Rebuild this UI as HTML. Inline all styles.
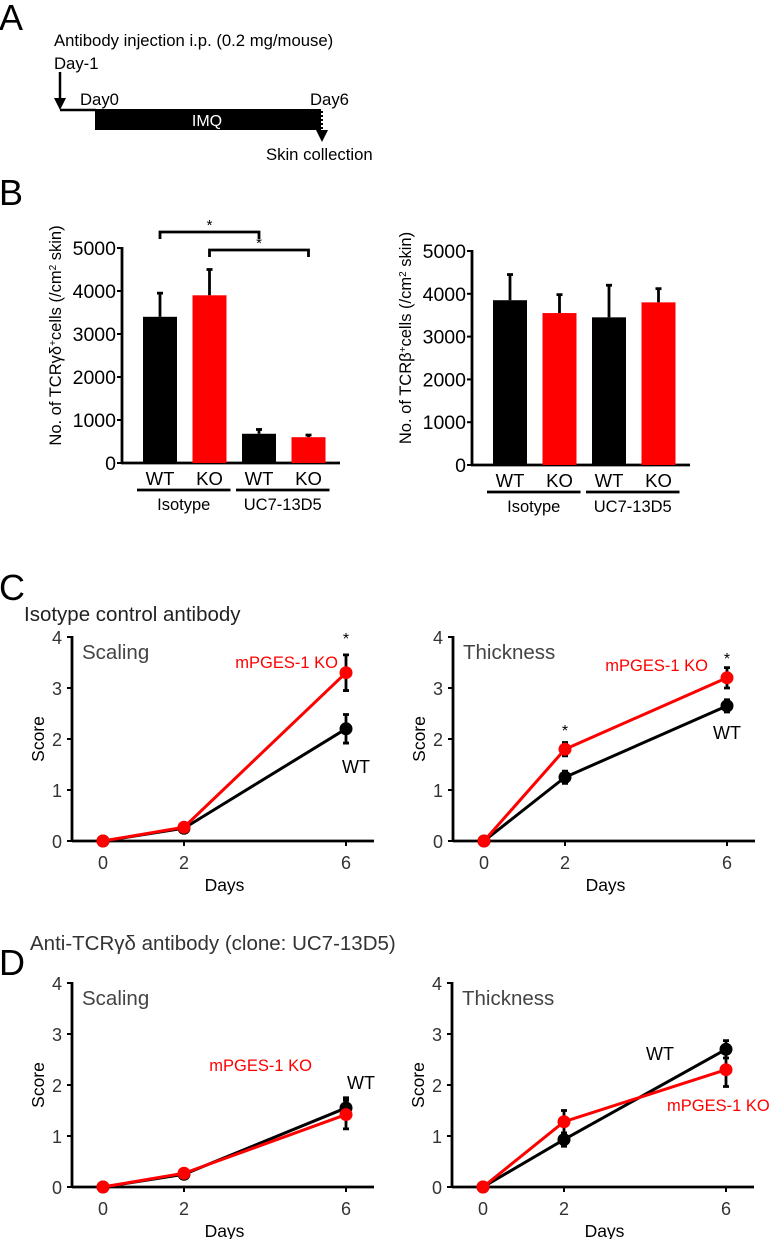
<!DOCTYPE html>
<html><head><meta charset="utf-8"><style>
html,body{margin:0;padding:0;background:#fff}
svg{display:block;font-family:"Liberation Sans",Arial,sans-serif}
</style></head><body>
<svg id="fig" width="770" height="1239" viewBox="0 0 770 1239" xmlns="http://www.w3.org/2000/svg">
<g>
<text x="-1" y="30" font-size="36">A</text>
<text x="54" y="46" font-size="16.7">Antibody injection i.p. (0.2 mg/mouse)</text>
<text x="54" y="69" font-size="16.7">Day-1</text>
<line x1="60" y1="72" x2="60" y2="100" stroke="#000" stroke-width="2.5"/>
<polygon points="54,98 66,98 60,110" fill="#000"/>
<line x1="60" y1="110" x2="96" y2="110" stroke="#000" stroke-width="2.5"/>
<rect x="95" y="109" width="226" height="21" fill="#000"/>
<text x="207" y="126" font-size="16" fill="#fff" text-anchor="middle">IMQ</text>
<text x="80" y="105" font-size="16.7">Day0</text>
<text x="310" y="105" font-size="16.7">Day6</text>
<line x1="322" y1="111" x2="322" y2="132" stroke="#000" stroke-width="2" stroke-dasharray="2,2"/>
<polygon points="316,130 328,130 322,142" fill="#000"/>
<text x="266" y="160" font-size="16.7">Skin collection</text>
</g>
<text x="-1" y="205" font-size="36">B</text>
<text x="-1" y="600" font-size="36">C</text>
<text x="24" y="621" font-size="20.5" fill="#222">Isotype control antibody</text>
<text x="-1" y="975" font-size="36">D</text>
<text x="30" y="950" font-size="20.5" fill="#333">Anti-TCRγδ antibody (clone: UC7-13D5)</text>
<g id="plots"></g>
</svg>
<script>
// Bar chart data
const barGroups = ["Isotype", "UC7-13D5"];
const barCats = ["WT", "KO", "WT", "KO"];
const gdValues = [3400, 3900, 680, 600];
const gdErrors = [550, 600, 100, 50];
const abValues = [3850, 3550, 3450, 3800];
const abErrors = [600, 430, 750, 320];
const barTicks = [0, 1000, 2000, 3000, 4000, 5000];
// Line chart data
const days = [0, 2, 6];
const scoreTicks = [0, 1, 2, 3, 4];
const cScalingWT = [0, 0.25, 2.2];
const cScalingWTErr = [0.03, 0.04, 0.28];
const cScalingKO = [0, 0.27, 3.3];
const cScalingKOErr = [0.03, 0.04, 0.35];
const cThickWT = [0, 1.25, 2.65];
const cThickWTErr = [0.03, 0.12, 0.12];
const cThickKO = [0, 1.8, 3.2];
const cThickKOErr = [0.03, 0.13, 0.2];
const dScalingWT = [0, 0.25, 1.55];
const dScalingWTErr = [0.03, 0.04, 0.2];
const dScalingKO = [0, 0.27, 1.42];
const dScalingKOErr = [0.03, 0.04, 0.28];
const dThickWT = [0, 0.93, 2.7];
const dThickWTErr = [0.03, 0.13, 0.17];
const dThickKO = [0, 1.28, 2.3];
const dThickKOErr = [0.03, 0.22, 0.33];

const NS = "http://www.w3.org/2000/svg";
const root = document.getElementById("plots");
function mk(tag, attrs, parent, txt) {
  const e = document.createElementNS(NS, tag);
  for (const k in attrs) e.setAttribute(k, attrs[k]);
  if (txt !== undefined) e.textContent = txt;
  (parent || root).appendChild(e);
  return e;
}

function barChart(cfg) {
  const g = mk("g", {});
  
  
  const y = v => cfg.y0 - (v / 5000) * (cfg.y0 - cfg.y5000);
  const xc = i => cfg.ax + 38 + i * 49.5;
  const ax = mk("line", {x1: cfg.ax, y1: cfg.y5000 - 1, x2: cfg.ax, y2: cfg.y0, stroke: "#000", "stroke-width": 2.8}, g);
  
  
  const xa = mk("line", {x1: cfg.ax - 1, y1: cfg.y0, x2: cfg.ax + 218, y2: cfg.y0, stroke: "#000", "stroke-width": 2.8}, g);
  
  
  barTicks.forEach(t => {
    const tk = mk("line", {x1: cfg.ax - 5, y1: y(t), x2: cfg.ax, y2: y(t), stroke: "#000", "stroke-width": 2}, g);
    
    
    const tl = mk("text", {x: cfg.ax - 6, y: y(t) + 7, "font-size": 19.5, "text-anchor": "end"}, g, t);
    
    
  });
  cfg.values.forEach((v, i) => {
    const c = xc(i), col = i % 2 ? "#f00" : "#000";
    const e = mk("line", {x1: c, y1: y(v), x2: c, y2: y(v + cfg.errors[i]), stroke: "#000", "stroke-width": 2.8}, g);
    
    
    const cap = mk("line", {x1: c - 3, y1: y(v + cfg.errors[i]), x2: c + 3, y2: y(v + cfg.errors[i]), stroke: "#000", "stroke-width": 2.8}, g);
    
    
    const r = mk("rect", {x: c - 17, y: y(v), width: 34, height: cfg.y0 - y(v), fill: col}, g);
    
    
    const l = mk("text", {x: c, y: cfg.y0 + 22, "font-size": 18.5, "text-anchor": "middle"}, g, barCats[i]);
    
    
  });
  barGroups.forEach((gn, j) => {
    const x1 = xc(j * 2) - 23, x2 = xc(j * 2 + 1) + 21;
    const u = mk("line", {x1: x1, y1: cfg.y0 + 27, x2: x2, y2: cfg.y0 + 27, stroke: "#000", "stroke-width": 2.8}, g);
    
    
    const t = mk("text", {x: (x1 + x2) / 2, y: cfg.y0 + 47, "font-size": 16.5, "text-anchor": "middle"}, g, gn);
    
    
  });
  const yl = mk("text", {x: 0, y: 0, "font-size": 16.5, "text-anchor": "middle", transform: `translate(${cfg.ax - 61},${(cfg.y0 + cfg.y5000) / 2 - 20}) rotate(-90)`}, g);
  
  
  yl.innerHTML = cfg.ylabel;
  return {g, y, xc};
}

const b1 = barChart({name: "tcr-gd-bar-chart", ax: 122, y0: 463, y5000: 248, values: gdValues, errors: gdErrors,
  ylabel: 'No. of TCRγδ<tspan baseline-shift="super" font-size="10">+</tspan>cells (/cm<tspan baseline-shift="super" font-size="10">2</tspan> skin)'});
const b2 = barChart({name: "tcr-b-bar-chart", ax: 472, y0: 465, y5000: 251, values: abValues, errors: abErrors,
  ylabel: 'No. of TCRβ<tspan baseline-shift="super" font-size="10">+</tspan>cells (/cm<tspan baseline-shift="super" font-size="10">2</tspan> skin)'});
// significance brackets
[[0, 2, 232], [1, 3, 250]].forEach(([a, b, yy]) => {
  const x1 = b1.xc(a), x2 = b1.xc(b);
  const p = mk("polyline", {points: `${x1},${yy + 7} ${x1},${yy} ${x2},${yy} ${x2},${yy + 7}`, fill: "none", stroke: "#000", "stroke-width": 2.8});
  
  
  const s = mk("text", {x: (x1 + x2) / 2, y: yy - 2, "font-size": 15, "text-anchor": "middle"}, root, "*");
  
  
});

function lineChart(cfg) {
  const g = mk("g", {});
  
  
  const y = v => cfg.y0 - v * 51;
  const x = d => cfg.ax + 31 + d * 40.5;
  const ya = mk("line", {x1: cfg.ax, y1: y(4) - 1, x2: cfg.ax, y2: cfg.y0, stroke: "#000", "stroke-width": 2.8}, g);
  
  
  const xa = mk("line", {x1: cfg.ax, y1: cfg.y0, x2: cfg.ax + 302, y2: cfg.y0, stroke: "#000", "stroke-width": 2.8}, g);
  
  
  scoreTicks.forEach(t => {
    const tk = mk("line", {x1: cfg.ax - 5, y1: y(t), x2: cfg.ax, y2: y(t), stroke: "#000", "stroke-width": 2}, g);
    
    
    const tl = mk("text", {x: cfg.ax - 10, y: y(t) + 7, "font-size": 18, fill: "#333", "text-anchor": "end"}, g, t);
    
    
  });
  days.forEach(d => {
    const tk = mk("line", {x1: x(d), y1: cfg.y0, x2: x(d), y2: cfg.y0 + 5, stroke: "#000", "stroke-width": 2}, g);
    
    
    const tl = mk("text", {x: x(d), y: cfg.y0 + 28, "font-size": 18, fill: "#333", "text-anchor": "middle"}, g, d);
    
    
  });
  const xt = mk("text", {x: x(3), y: cfg.y0 + 50, "font-size": 17.5, "text-anchor": "middle"}, g, "Days");
  
  
  const yt = mk("text", {x: 0, y: 0, "font-size": 17.5, "text-anchor": "middle", transform: `translate(${cfg.ax - 28},${y(2)}) rotate(-90)`}, g, "Score");
  
  
  const tt = mk("text", {x: cfg.ax + 10, y: y(4) + 22, "font-size": 20.5, fill: "#444"}, g, cfg.title);
  
  
  [[cfg.wt, cfg.wtErr, "#000", "wt"], [cfg.ko, cfg.koErr, "#f00", "ko"]].forEach(([vals, errs, col, nm]) => {
    const pl = mk("polyline", {points: vals.map((v, i) => `${x(days[i])},${y(v)}`).join(" "), fill: "none", stroke: col, "stroke-width": 3}, g);
    
    
    vals.forEach((v, i) => {
      const e = mk("path", {d: `M${x(days[i]) - 3},${y(v + errs[i])}h6M${x(days[i])},${y(v + errs[i])}V${y(v - errs[i])}M${x(days[i]) - 3},${y(v - errs[i])}h6`, stroke: "#000", "stroke-width": 2.8, fill: "none"}, g);
      
      
      const c = mk("circle", {cx: x(days[i]), cy: y(v), r: 6.5, fill: col}, g);
      
      
    });
  });
  cfg.labels.forEach(([txt, lx, ly, col, anchor]) => {
    const t = mk("text", {x: lx, y: ly, "font-size": txt === "WT" ? 18 : 16.5, fill: col, "text-anchor": anchor || "start"}, g, txt);
    
    
  });
  (cfg.stars || []).forEach(([d, yy]) => {
    const s = mk("text", {x: x(d), y: yy, "font-size": 16, "text-anchor": "middle"}, g, "*");
    
    
  });
}

lineChart({name: "c-scaling-chart", ax: 72, y0: 841, title: "Scaling", wt: cScalingWT, wtErr: cScalingWTErr, ko: cScalingKO, koErr: cScalingKOErr,
  labels: [["mPGES-1 KO", 338, 668, "#f00", "end"], ["WT", 342, 773, "#000"]], stars: [[6, 644]]});
lineChart({name: "c-thickness-chart", ax: 453, y0: 841, title: "Thickness", wt: cThickWT, wtErr: cThickWTErr, ko: cThickKO, koErr: cThickKOErr,
  labels: [["mPGES-1 KO", 708, 671, "#f00", "end"], ["WT", 713, 739, "#000"]], stars: [[2, 736], [6, 664]]});
lineChart({name: "d-scaling-chart", ax: 72, y0: 1187, title: "Scaling", wt: dScalingWT, wtErr: dScalingWTErr, ko: dScalingKO, koErr: dScalingKOErr,
  labels: [["mPGES-1 KO", 312, 1071, "#f00", "end"], ["WT", 347, 1089, "#000"]]});
lineChart({name: "d-thickness-chart", ax: 452, y0: 1187, title: "Thickness", wt: dThickWT, wtErr: dThickWTErr, ko: dThickKO, koErr: dThickKOErr,
  labels: [["WT", 646, 1060, "#000"], ["mPGES-1 KO", 667, 1111, "#f00"]]});
</script>
</body></html>
